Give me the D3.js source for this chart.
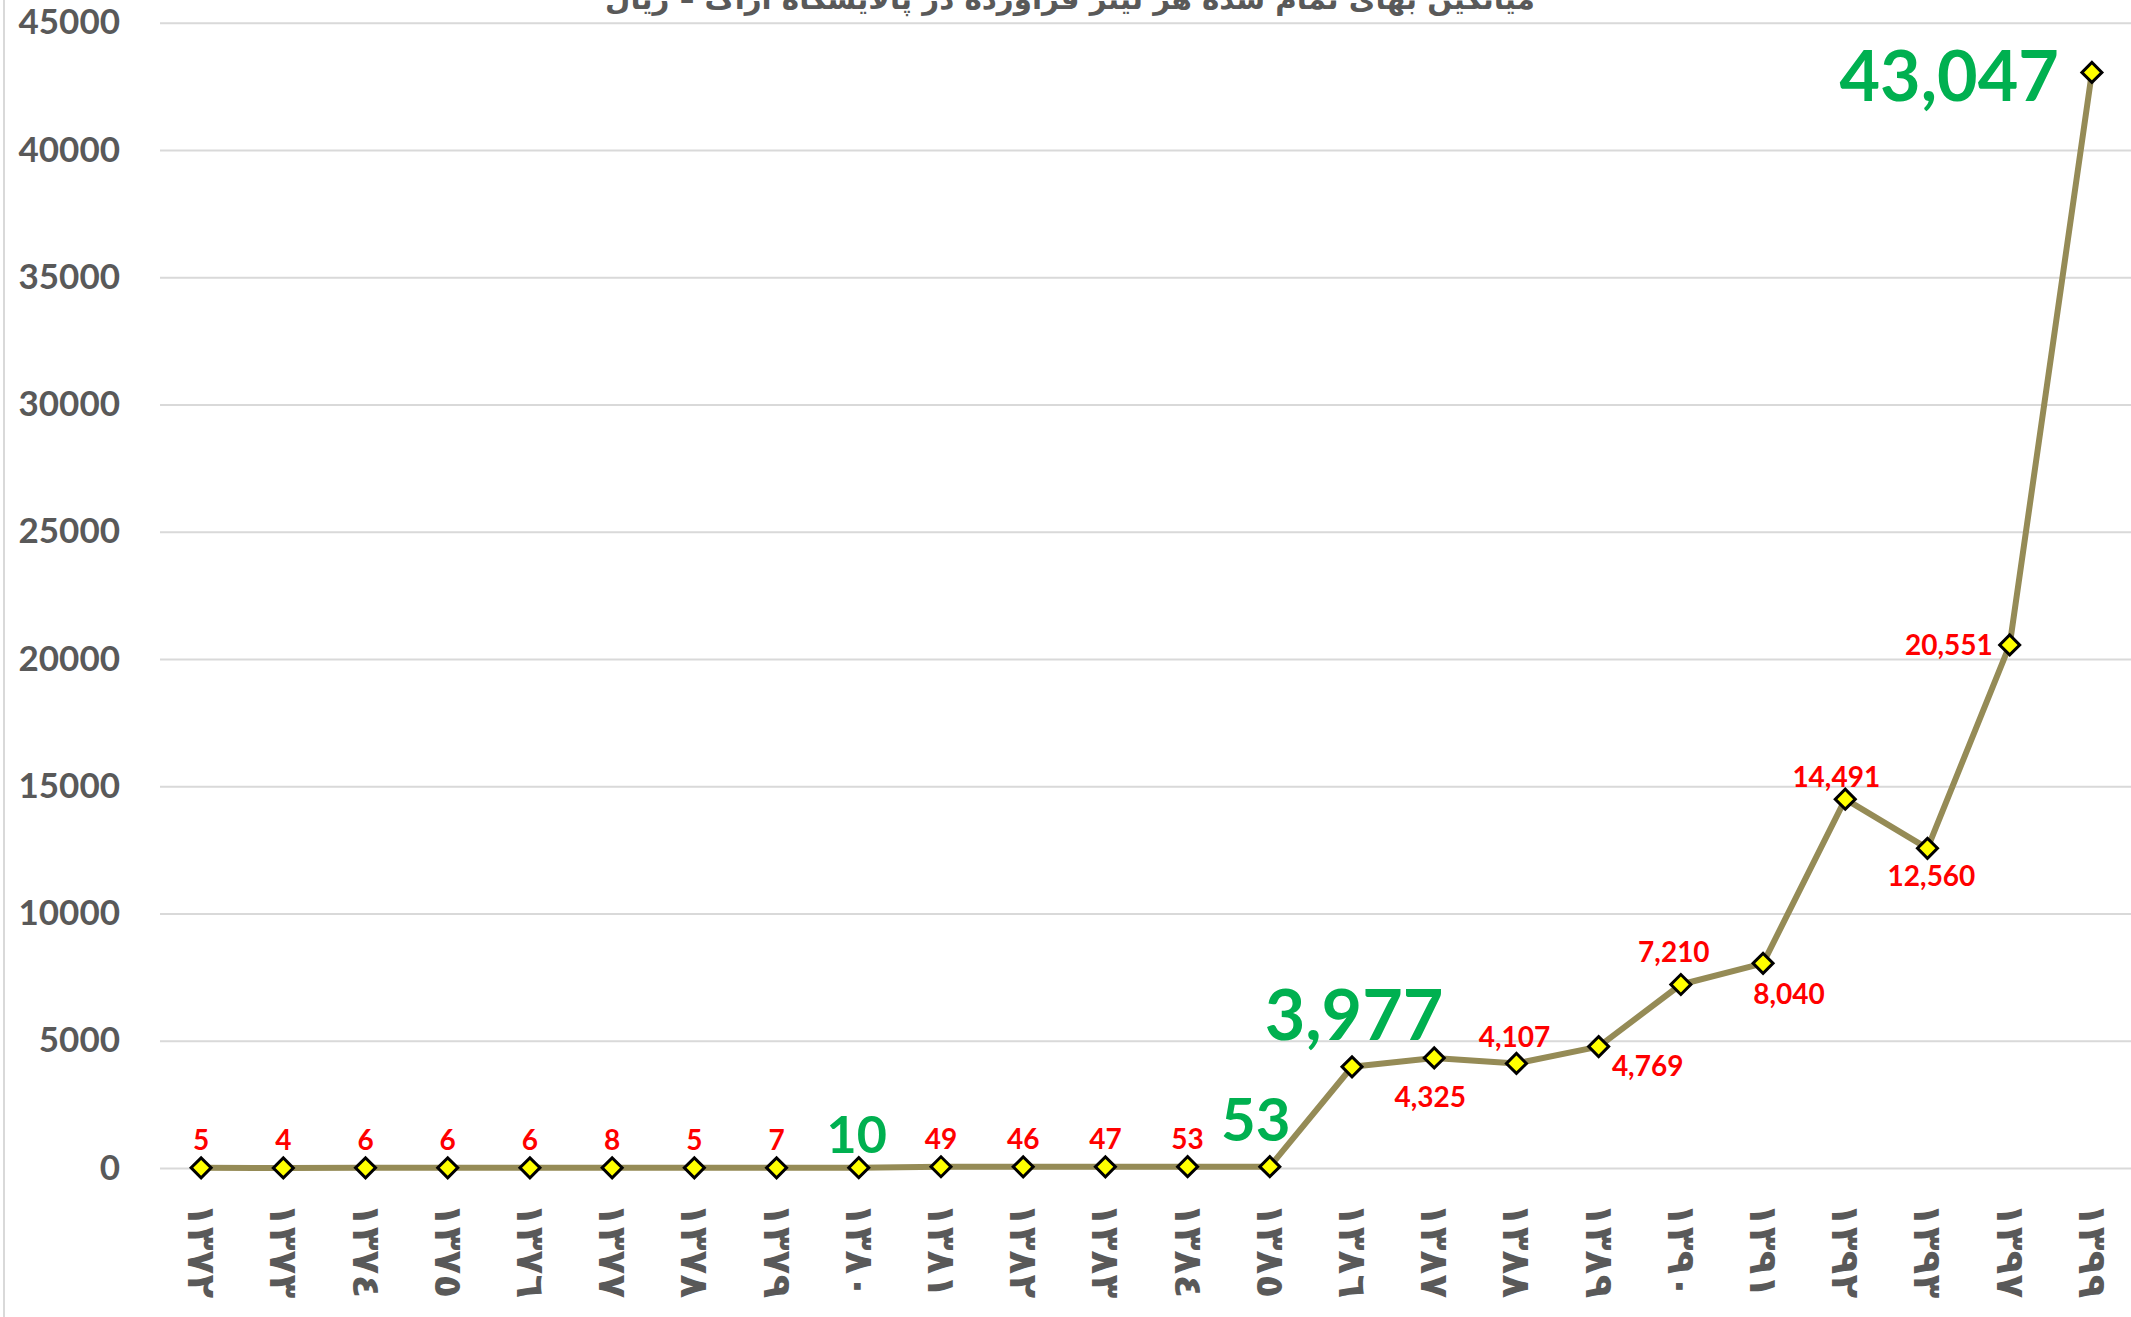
<!DOCTYPE html>
<html>
<head>
<meta charset="utf-8">
<script src="https://cdn.jsdelivr.net/npm/d3@7"></script>
<style>
    body { margin: 0; background: #fff; }
    svg { display: block; }
</style>
</head>
<body>
<div id="chart"></div>
<script>
// years (Arabic-Indic digits, as in the original)
const years = ['١٣٧٢', '١٣٧٣', '١٣٧٤', '١٣٧٥', '١٣٧٦', '١٣٧٧', '١٣٧٨', '١٣٧٩',
    '١٣٨٠', '١٣٨١', '١٣٨٢', '١٣٨٣', '١٣٨٤', '١٣٨٥', '١٣٨٦', '١٣٨٧', '١٣٨٨',
    '١٣٨٩', '١٣٩٠', '١٣٩١', '١٣٩٢', '١٣٩٣', '١٣٩٧', '١٣٩٩'];

// average cost per litre (rial)
const values = [5, 4, 6, 6, 6, 8, 5, 7, 10, 49, 46, 47, 53, 53, 3977, 4325, 4107,
    4769, 7210, 8040, 14491, 12560, 20551, 43047];

// years whose label is shown big and green
const highlighted = ['١٣٨٠', '١٣٨٥', '١٣٨٦', '١٣٩٩'];

const yTicks = [0, 5000, 10000, 15000, 20000, 25000, 30000, 35000, 40000, 45000];

const title = 'میانگین بهای تمام شده هر لیتر فرآورده در پالایشگاه اراک – ریال';

const data = years.map((y, i) => ({ year: y, value: values[i], big: highlighted.includes(y) }));

// where each data label sits relative to its marker
function labelPlacement(d) {
    switch (d.year) {
        case '١٣٨٠': return { dx: -2, dy: -15, anchor: 'middle', size: 52 };
        case '١٣٨٥': return { dx: -14, dy: -26, anchor: 'middle', size: 60 };
        case '١٣٨٦': return { dx: 2, dy: -27, anchor: 'middle', size: 70 };
        case '١٣٨٧': return { dx: -4, dy: 49, anchor: 'middle', size: 28 };
        case '١٣٨٨': return { dx: -2, dy: -16, anchor: 'middle', size: 28 };
        case '١٣٨٩': return { dx: 49, dy: 29, anchor: 'middle', size: 28 };
        case '١٣٩٠': return { dx: -7, dy: -22, anchor: 'middle', size: 28 };
        case '١٣٩١': return { dx: 26, dy: 41, anchor: 'middle', size: 28 };
        case '١٣٩٢': return { dx: -9, dy: -12, anchor: 'middle', size: 28 };
        case '١٣٩٣': return { dx: 4, dy: 38, anchor: 'middle', size: 28 };
        case '١٣٩٧': return { dx: -17, dy: 10, anchor: 'end', size: 28 };
        case '١٣٩٩': return { dx: -33, dy: 29, anchor: 'end', size: 70 };
        default: return { dx: 0, dy: -18, anchor: 'middle', size: 28 };
    }
}

function createChart() {
    const width = 2131;
    const height = 1317;
    const plot = { left: 160, right: 2133, top: 22.7, bottom: 1168 };

    const svg = d3.select('#chart')
        .append('svg')
        .attr('width', width)
        .attr('height', height);

    const xScale = d3.scalePoint()
        .domain(years)
        .range([plot.left, plot.right])
        .padding(0.5);

    const yScale = d3.scaleLinear()
        .domain([0, 45000])
        .range([plot.bottom, plot.top]);

    // outer chart border (only the left edge is visible)
    svg.append('line')
        .attr('x1', 4).attr('x2', 4)
        .attr('y1', 0).attr('y2', height)
        .attr('stroke', '#d9d9d9')
        .attr('stroke-width', 2);

    // title, mostly cut off at the top
    const titleText = svg.append('text')
        .attr('x', 1070)
        .attr('y', 9)
        .attr('text-anchor', 'middle')
        .attr('direction', 'rtl')
        .attr('font-family', 'DejaVu Sans')
        .attr('font-weight', 'bold')
        .attr('font-size', 40)
        .attr('fill', '#595959')
        .text(title);
    // squeeze the title into the width it has in the original
    const tw = titleText.node().getComputedTextLength();
    titleText.attr('font-size', 40 * 930 / tw);

    // gridlines
    svg.append('g')
        .attr('class', 'gridlines')
        .attr('transform', `translate(${plot.left}, 0)`)
        .call(d3.axisLeft(yScale)
            .tickValues(yTicks)
            .tickFormat('')
            .tickSize(-(width - plot.left)))
        .call(g => g.select('.domain').remove())
        .call(g => g.selectAll('line').attr('stroke', '#d9d9d9').attr('stroke-width', 2));

    // y axis labels
    svg.append('g')
        .attr('transform', `translate(${plot.left}, 0)`)
        .call(d3.axisLeft(yScale).tickValues(yTicks).tickFormat(d3.format('d')).tickSize(0).tickPadding(40))
        .call(g => g.select('.domain').remove())
        .call(g => g.selectAll('text')
            .attr('font-family', 'Lato')
            .attr('font-weight', 'bold')
            .attr('font-size', 35)
            .attr('fill', '#595959'));

    // x axis labels, turned a quarter clockwise
    const xAxis = svg.append('g')
        .attr('transform', `translate(0, ${plot.bottom})`)
        .call(d3.axisBottom(xScale).tickSize(0).tickPadding(0));
    xAxis.select('.domain').remove();
    xAxis.selectAll('text')
        .attr('transform', 'translate(0, 35) rotate(90)')
        .attr('x', 0)
        .attr('y', 0)
        .attr('dy', null)
        .attr('text-anchor', 'start')
        .attr('dominant-baseline', 'central')
        .attr('font-family', 'DejaVu Sans')
        .attr('font-weight', 'bold')
        .attr('font-size', 39)
        .attr('fill', '#595959');

    // the line
    const line = d3.line()
        .x(d => xScale(d.year))
        .y(d => yScale(d.value));

    svg.append('path')
        .datum(data)
        .attr('d', line)
        .attr('fill', 'none')
        .attr('stroke', '#958b56')
        .attr('stroke-width', 6)
        .attr('stroke-linejoin', 'round');

    // diamond markers
    svg.append('g')
        .selectAll('path')
        .data(data)
        .join('path')
        .attr('d', d3.symbol().type(d3.symbolSquare).size(200))
        .attr('transform', d => `translate(${xScale(d.year)}, ${yScale(d.value)}) rotate(45)`)
        .attr('fill', '#ffff00')
        .attr('stroke', '#000')
        .attr('stroke-width', 3);

    // data labels
    svg.append('g')
        .selectAll('text')
        .data(data)
        .join('text')
        .each(function (d) {
            const p = labelPlacement(d);
            d3.select(this)
                .attr('x', xScale(d.year) + p.dx)
                .attr('y', yScale(d.value) + p.dy)
                .attr('text-anchor', p.anchor)
                .attr('font-size', p.size);
        })
        .attr('font-family', 'Lato')
        .attr('font-weight', 'bold')
        .attr('fill', d => d.big ? '#00b050' : '#ff0000')
        .text(d => d3.format(',')(d.value));
}

document.addEventListener('DOMContentLoaded', createChart);
</script>
</body>
</html>
